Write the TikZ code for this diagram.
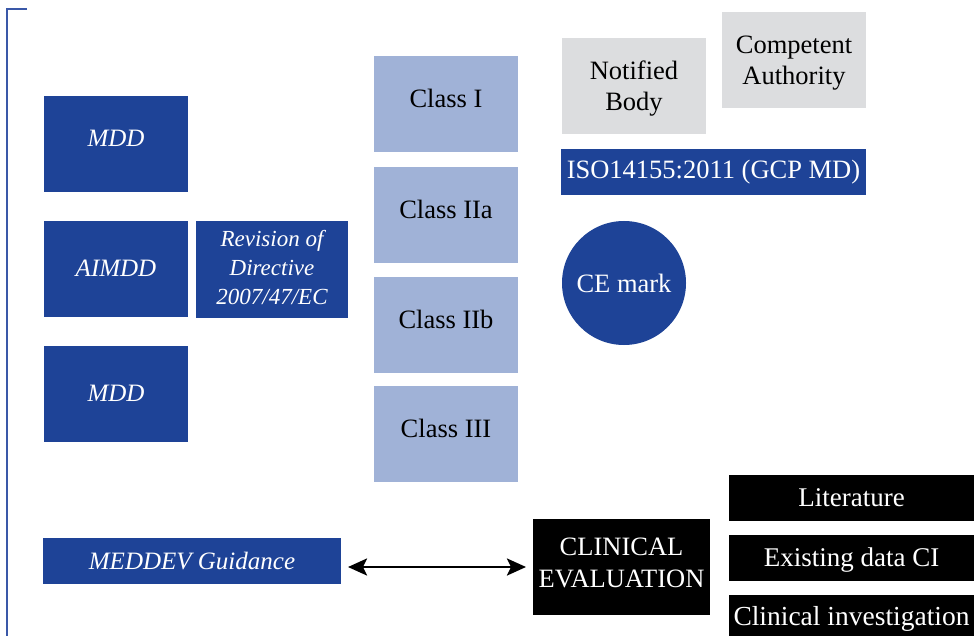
\documentclass[tikz,border=0pt]{standalone}
\usepackage{fontspec}
\setmainfont{Liberation Serif}
\usetikzlibrary{arrows.meta}
\definecolor{dblue}{HTML}{1E4397}
\definecolor{lblue}{HTML}{A0B2D7}
\definecolor{lgray}{HTML}{DCDDDF}
\definecolor{brkcol}{HTML}{3A58A8}
\tikzset{
  box/.style={anchor=north west, inner sep=0pt, outer sep=0pt, align=center,
    font=\fontsize{26.5}{31}\selectfont},
  bluebox/.style={box, fill=dblue, text=white, font=\fontsize{25}{30}\selectfont\itshape},
  classbox/.style={box, fill=lblue, minimum width=144pt, minimum height=96pt},
  graybox/.style={box, fill=lgray, minimum width=144pt, minimum height=96pt},
  blackbox/.style={box, fill=black, text=white, font=\fontsize{27}{31}\selectfont},
  txt/.style={inner sep=0pt, align=center, text=black, font=\fontsize{26.5}{31}\selectfont},
  itxt/.style={inner sep=0pt, align=center, text=white, font=\fontsize{25}{30}\selectfont\itshape},
  wtxt/.style={inner sep=0pt, align=center, text=white, font=\fontsize{26.5}{32}\selectfont},
  brk/.style={draw=brkcol, line width=1.5pt},
  dblarrow/.style={line width=2.6pt, {Stealth[length=19pt,width=17pt,inset=4pt]}-{Stealth[length=19pt,width=17pt,inset=4pt]}}
}
\begin{document}
\begin{tikzpicture}[x=1pt,y=-1pt]
\useasboundingbox[fill=white] (0,0) rectangle (974,636);
% bracket
\coordinate (bt) at (27,9);
\coordinate (bc) at (7,9);
\coordinate (bb) at (7,640);
\draw[brk] (bt) -- (bc) -- (bb);
% left column
\node[bluebox, minimum width=144pt, minimum height=96pt] (mdda) at (44,96) {};
\node[itxt] (mddat) at ([yshift=6pt]mdda.center) {MDD};
\node[bluebox, minimum width=144pt, minimum height=96pt] (aimdd) at (44,221) {};
\node[itxt] (aimddt) at ([yshift=1pt]aimdd.center) {AIMDD};
\node[bluebox, minimum width=144pt, minimum height=96pt] (mddb) at (44,346) {};
\node[itxt] (mddbt) at ([yshift=1pt]mddb.center) {MDD};
\node[bluebox, minimum width=152pt, minimum height=97pt] (rev) at (196,221) {};
\node[itxt, font=\fontsize{23}{29}\selectfont\itshape] (revt) at ([yshift=2pt]rev.center) {Revision of\\Directive\\2007/47/EC};
% classes
\node[classbox] (c1) at (374,56) {};
\node[txt] (c1t) at ([yshift=6pt]c1.center) {Class I};
\node[classbox] (c2a) at (374,167) {};
\node[txt] (c2at) at ([yshift=6pt]c2a.center) {Class IIa};
\node[classbox] (c2b) at (374,277) {};
\node[txt] (c2bt) at ([yshift=6pt]c2b.center) {Class IIb};
\node[classbox] (c3) at (374,386) {};
\node[txt] (c3t) at ([yshift=6pt]c3.center) {Class III};
% right top
\node[graybox] (nb) at (562,38) {};
\node[txt] (nbt) at ([yshift=-3pt]nb.center) {Notified\\Body};
\node[graybox] (ca) at (722,12) {};
\node[txt] (cat) at ([yshift=-3pt]ca.center) {Competent\\Authority};
\node[box, fill=dblue, text=white, minimum width=305pt, minimum height=46pt] (iso) at (561,149) {ISO14155:2011 (GCP MD)};
\node[circle, fill=dblue, text=white, minimum size=124pt, inner sep=0pt, font=\fontsize{26.5}{30}\selectfont] (ce) at (624,283) {CE mark};
% bottom
\node[bluebox, minimum width=298pt, minimum height=46pt] (meddev) at (43,538) {MEDDEV Guidance};
\node[blackbox, minimum width=177pt, minimum height=96pt] (ce2) at (533,519) {};
\node[wtxt] (ce2t) at ([yshift=4pt]ce2.center) {CLINICAL\\EVALUATION};
\draw[dblarrow] ([xshift=7pt,yshift=-6pt]meddev.east) -- ([xshift=-7pt]ce2.west);
\node[blackbox, minimum width=245pt, minimum height=46pt] (lit) at (729,475) {Literature};
\node[blackbox, minimum width=245pt, minimum height=46pt] (ex) at (729,535) {};
\node[wtxt, font=\fontsize{27}{31}\selectfont] (ext) at ([yshift=-2pt]ex.center) {Existing data CI};
\node[blackbox, minimum width=245pt, minimum height=46pt] (ci) at (729,595) {};
\node[wtxt, font=\fontsize{27.5}{31}\selectfont] (cit) at ([yshift=-1pt]ci.center) {Clinical investigation};
\end{tikzpicture}
\end{document}
